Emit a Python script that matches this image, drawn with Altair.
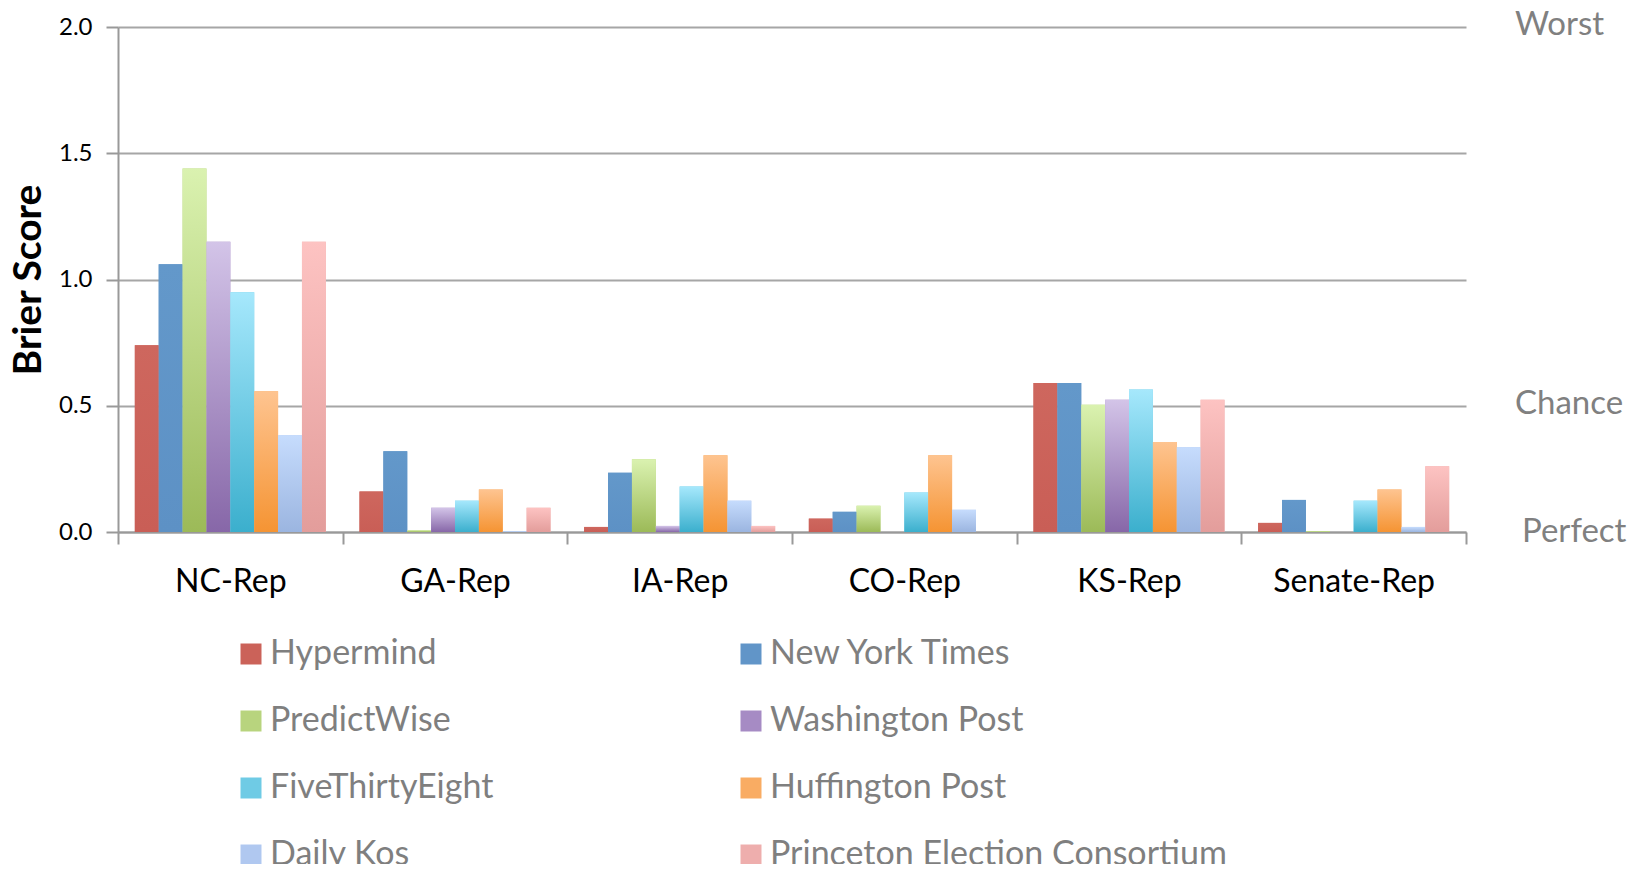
import altair as alt
import pandas as pd

groups = ["NC-Rep", "GA-Rep", "IA-Rep", "CO-Rep", "KS-Rep", "Senate-Rep"]
series = ["Hypermind", "New York Times", "PredictWise", "Washington Post",
          "FiveThirtyEight", "Huffington Post", "Daily Kos",
          "Princeton Election Consortium"]

hypermind = [0.74, 0.16, 0.02, 0.053, 0.59, 0.036]
nyt = [1.06, 0.32, 0.235, 0.08, 0.59, 0.127]
predictwise = [1.44, 0.007, 0.288, 0.104, 0.504, 0.004]
wapo = [1.15, 0.096, 0.024, 0.0, 0.524, 0.0]
fivethirtyeight = [0.95, 0.124, 0.18, 0.156, 0.564, 0.124]
huffpost = [0.557, 0.168, 0.304, 0.304, 0.356, 0.168]
dailykos = [0.383, 0.003, 0.124, 0.088, 0.336, 0.02]
princeton = [1.15, 0.096, 0.024, 0.0, 0.524, 0.26]

anchor_values = [2.0, 0.5, 0.0]
anchor_labels = ["Worst", "Chance", "Perfect"]

flat_colors = ["#CB6259", "#6195C8", "#B8D47E", "#A68BC4",
               "#6FCBE5", "#F9AC63", "#B0C8F0", "#EEAEAD"]
top_colors = ["#CE675E", "#6398CA", "#DAF2B0", "#D3C4E8",
              "#A6E8FC", "#FEC490", "#C6DCFD", "#FDC3C2"]
bottom_colors = ["#C95E56", "#5D91C5", "#9CBA58", "#8767A8",
                 "#3BAFCD", "#F59433", "#9BB5E0", "#E39D9B"]

all_values = [hypermind, nyt, predictwise, wapo, fivethirtyeight,
              huffpost, dailykos, princeton]
rows = []
for s, vals in zip(series, all_values):
    for g, v in zip(groups, vals):
        rows.append({"group": g, "series": s, "value": v})
df = pd.DataFrame(rows)

x_enc = alt.X("group:N", sort=groups,
              scale=alt.Scale(domain=groups, paddingInner=0, paddingOuter=0),
              axis=alt.Axis(title=None, labelAngle=0, tickBand="extent",
                            labelFontSize=32, tickSize=12, labelPadding=22,
                            grid=False))
xo_enc = alt.XOffset("series:N",
                     scale=alt.Scale(domain=series, paddingInner=0, paddingOuter=0.705))
y_enc = alt.Y("value:Q", scale=alt.Scale(domain=[0, 2]),
              axis=alt.Axis(values=[0, 0.5, 1, 1.5, 2], format=".1f",
                            title="Brier Score", labelFontSize=24, tickSize=12,
                            labelPadding=14, titleFontSize=39,
                            titleFontWeight="bold", titlePadding=10,
                            titleColor="black", grid=True))

base = alt.Chart(df).mark_bar().encode(
    x=x_enc, xOffset=xo_enc, y=y_enc,
    color=alt.Color("series:N",
                    scale=alt.Scale(domain=series, range=flat_colors),
                    legend=alt.Legend(title=None, orient="none", legendX=116,
                                      legendY=610, columns=2, columnPadding=240,
                                      rowPadding=33, direction="horizontal",
                                      symbolType="square",
                                      symbolSize=441, symbolStrokeWidth=0,
                                      labelFont="Lato", labelFontSize=34,
                                      labelColor="#7f7f7f", labelOffset=2,
                                      labelLimit=700)),
)

layers = [base]
for s, tc, bc in zip(series, top_colors, bottom_colors):
    grad = {"gradient": "linear",
            "stops": [{"offset": 0, "color": tc}, {"offset": 1, "color": bc}],
            "x1": 0, "x2": 0, "y1": 0, "y2": 1}
    layers.append(
        alt.Chart(df).transform_filter(alt.datum.series == s)
        .mark_bar(color=grad)
        .encode(x=x_enc, xOffset=xo_enc, y=y_enc)
    )

ann = pd.DataFrame({"value": anchor_values, "label": anchor_labels})
text_top = alt.Chart(ann).transform_filter(alt.datum.label != "Perfect").mark_text(
    align="left", baseline="middle", font="Lato", fontSize=33, color="#808080",
    dy=-2).encode(
    y=alt.Y("value:Q", scale=alt.Scale(domain=[0, 2])),
    x=alt.value(1397),
    text="label:N",
)
text_bottom = alt.Chart(ann).transform_filter(alt.datum.label == "Perfect").mark_text(
    align="left", baseline="middle", font="Lato", fontSize=33, color="#808080",
    dx=7).encode(
    y=alt.Y("value:Q", scale=alt.Scale(domain=[0, 2])),
    x=alt.value(1397),
    text="label:N",
)
layers.extend([text_top, text_bottom])

chart = alt.layer(*layers).properties(
    width=1348, height=505,
    padding={"left": 110, "top": 19, "right": 174, "bottom": 332},
    autosize=alt.AutoSizeParams(type="none"),
).configure_view(stroke="transparent").configure_axis(
    domainColor="#999999", domainWidth=2, tickColor="#999999", tickWidth=2,
    gridColor="#A6A6A6", gridWidth=2, labelFont="Lato", titleFont="Lato",
    labelColor="black",
)

chart.save("out.html", embed_options={"renderer": "svg", "actions": False})
